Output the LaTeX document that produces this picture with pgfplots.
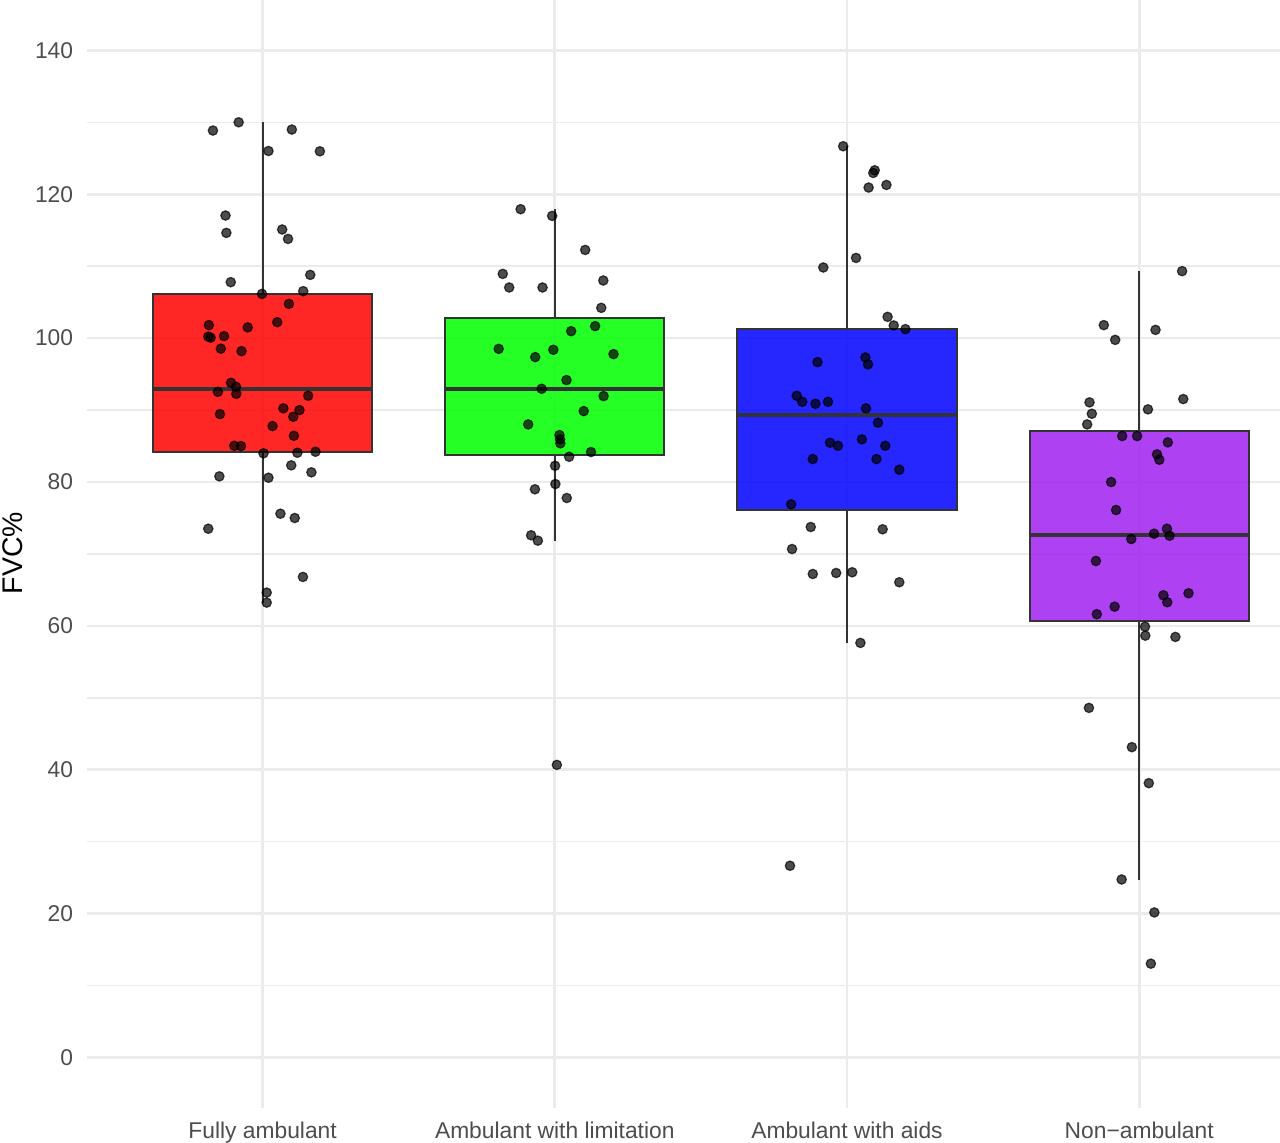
\documentclass[border=0pt]{standalone}
\usepackage{fontspec}
\setmainfont{Liberation Sans}
\usepackage{pgfplots}
\pgfplotsset{compat=1.18}
\usepackage{pgfplotstable}
\definecolor{grey92}{HTML}{EBEBEB}
\definecolor{grey30}{HTML}{4D4D4D}
\definecolor{grey20}{HTML}{333333}
\definecolor{rpurple}{HTML}{A020F0}
\definecolor{rred}{HTML}{FF0000}
\definecolor{rgreen}{HTML}{00FF00}
\definecolor{rblue}{HTML}{0000FF}

\pgfplotstableread{
x y
0.830 128.85
0.918 130.00
1.100 128.99
1.020 126.01
1.196 125.97
0.873 117.04
0.876 114.63
1.067 115.10
1.087 113.79
1.163 108.79
0.891 107.78
0.998 106.15
1.139 106.53
1.090 104.76
1.050 102.22
0.816 101.81
0.949 101.49
0.814 100.21
0.822 100.07
0.868 100.28
0.857 98.54
0.928 98.19
0.892 93.79
0.909 93.24
0.847 92.54
0.910 92.26
1.156 91.99
1.071 90.24
1.126 90.00
1.105 89.07
0.854 89.44
1.034 87.78
1.107 86.43
0.903 85.04
0.926 85.00
1.003 83.99
1.119 84.07
1.181 84.21
1.098 82.32
1.167 81.35
0.852 80.79
1.020 80.60
1.061 75.60
1.110 75.00
0.814 73.51
1.138 66.81
1.014 64.63
1.014 63.24
}\groupA

\pgfplotstableread{
x y
1.883 117.92
1.991 116.99
2.104 112.26
1.822 108.93
1.844 107.04
1.958 107.04
2.166 108.01
2.159 104.21
2.138 101.67
2.056 100.97
1.808 98.51
1.933 97.36
1.995 98.38
2.201 97.78
2.040 94.17
1.955 92.96
2.167 91.94
2.099 89.86
1.909 88.01
2.016 86.53
2.018 85.93
2.019 85.38
2.124 84.17
2.049 83.51
2.001 82.26
2.002 79.72
1.932 78.99
2.041 77.78
1.919 72.60
1.942 71.85
2.007 40.69
}\groupB

\pgfplotstableread{
x y
2.987 126.67
3.095 123.33
3.090 122.96
3.074 120.93
3.135 121.29
3.031 111.15
2.919 109.82
3.139 102.96
3.160 101.76
3.200 101.25
2.899 96.67
3.063 97.32
3.072 96.35
2.828 91.99
2.847 91.15
2.892 90.88
2.935 91.15
3.065 90.24
3.106 88.24
2.942 85.46
2.969 85.04
3.051 85.93
3.131 85.04
2.883 83.19
3.101 83.19
3.179 81.71
2.809 76.90
2.876 73.75
3.122 73.43
2.812 70.69
2.883 67.22
2.963 67.36
3.018 67.46
3.179 66.07
3.046 57.64
2.805 26.67
}\groupC

\pgfplotstableread{
x y
4.147 109.31
3.879 101.81
4.056 101.15
3.918 99.76
3.830 91.07
3.838 89.49
3.822 88.01
4.151 91.53
4.030 90.10
3.942 86.39
3.993 86.39
4.098 85.51
4.061 83.85
4.069 83.10
3.904 80.00
3.921 76.11
4.095 73.51
4.051 72.82
4.104 72.54
3.973 72.08
3.852 69.03
4.083 64.26
4.169 64.54
4.096 63.29
3.916 62.68
3.855 61.63
4.020 59.90
4.021 58.65
4.124 58.47
3.828 48.61
3.975 43.15
4.033 38.15
3.940 24.76
4.052 20.18
4.040 13.06
}\groupD

\begin{document}
\begin{tikzpicture}
\useasboundingbox (0,0) rectangle (640pt,571.5pt);
\begin{axis}[
  at={(43.65pt,17.5pt)}, anchor=south west,
  scale only axis,
  width=596.35pt, height=554pt,
  xmin=0.4, xmax=4.482,
  ymin=-7, ymax=147,
  xtick={1,2,3,4},
  xticklabels={Fully ambulant, Ambulant with limitation, Ambulant with aids, Non−ambulant},
  ytick={0,20,...,140},
  minor ytick={10,30,...,130},
  grid=both,
  major grid style={color=grey92, line width=1.35pt},
  minor grid style={color=grey92, line width=0.7pt},
  axis line style={draw=none},
  tick style={draw=none},
  /pgf/number format/assume math mode=true,
  ticklabel style={font=\fontsize{11.4pt}{13pt}\selectfont, text=grey30, inner sep=0pt},
  xticklabel style={anchor=base, yshift=-15.35pt},
  yticklabel style={anchor=east, xshift=-6.9pt},
  clip=false,
  boxst/.style={draw=grey20, line width=1pt, fill opacity=0.85},
  whisk/.style={draw=grey20, line width=1pt},
  medst/.style={draw=grey20, line width=2.15pt},
  jitterstyle/.style={only marks, mark=*, mark size=2.35pt, mark options={draw=black, fill=black, draw opacity=0.7, fill opacity=0.7, line width=0.6pt}},
]
% whiskers
\addplot[whisk] coordinates {(1,106.1) (1,130)};
\addplot[whisk] coordinates {(1,84.2) (1,63.2)};
\addplot[whisk] coordinates {(2,102.8) (2,117.9)};
\addplot[whisk] coordinates {(2,83.75) (2,71.85)};
\addplot[whisk] coordinates {(3,101.25) (3,126.7)};
\addplot[whisk] coordinates {(3,76.1) (3,57.6)};
\addplot[whisk] coordinates {(4,87.1) (4,109.3)};
\addplot[whisk] coordinates {(4,60.7) (4,24.7)};
% boxes
\addplot[boxst, fill=rred] coordinates {(0.625,84.2) (1.375,84.2) (1.375,106.1) (0.625,106.1)} -- cycle;
\addplot[boxst, fill=rgreen] coordinates {(1.625,83.75) (2.375,83.75) (2.375,102.8) (1.625,102.8)} -- cycle;
\addplot[boxst, fill=rblue] coordinates {(2.625,76.1) (3.375,76.1) (3.375,101.25) (2.625,101.25)} -- cycle;
\addplot[boxst, fill=rpurple] coordinates {(3.625,60.7) (4.375,60.7) (4.375,87.1) (3.625,87.1)} -- cycle;
% medians
\addplot[medst] coordinates {(0.625,92.9) (1.375,92.9)};
\addplot[medst] coordinates {(1.625,92.9) (2.375,92.9)};
\addplot[medst] coordinates {(2.625,89.3) (3.375,89.3)};
\addplot[medst] coordinates {(3.625,72.6) (4.375,72.6)};
% jittered points
\addplot[jitterstyle] table[x=x,y=y] {\groupA};
\addplot[jitterstyle] table[x=x,y=y] {\groupB};
\addplot[jitterstyle] table[x=x,y=y] {\groupC};
\addplot[jitterstyle] table[x=x,y=y] {\groupD};
\end{axis}
\node[rotate=90, anchor=base, inner sep=0pt, font=\fontsize{14.2pt}{16pt}\selectfont] at (11pt,295pt) {FVC\%};
\end{tikzpicture}
\end{document}
